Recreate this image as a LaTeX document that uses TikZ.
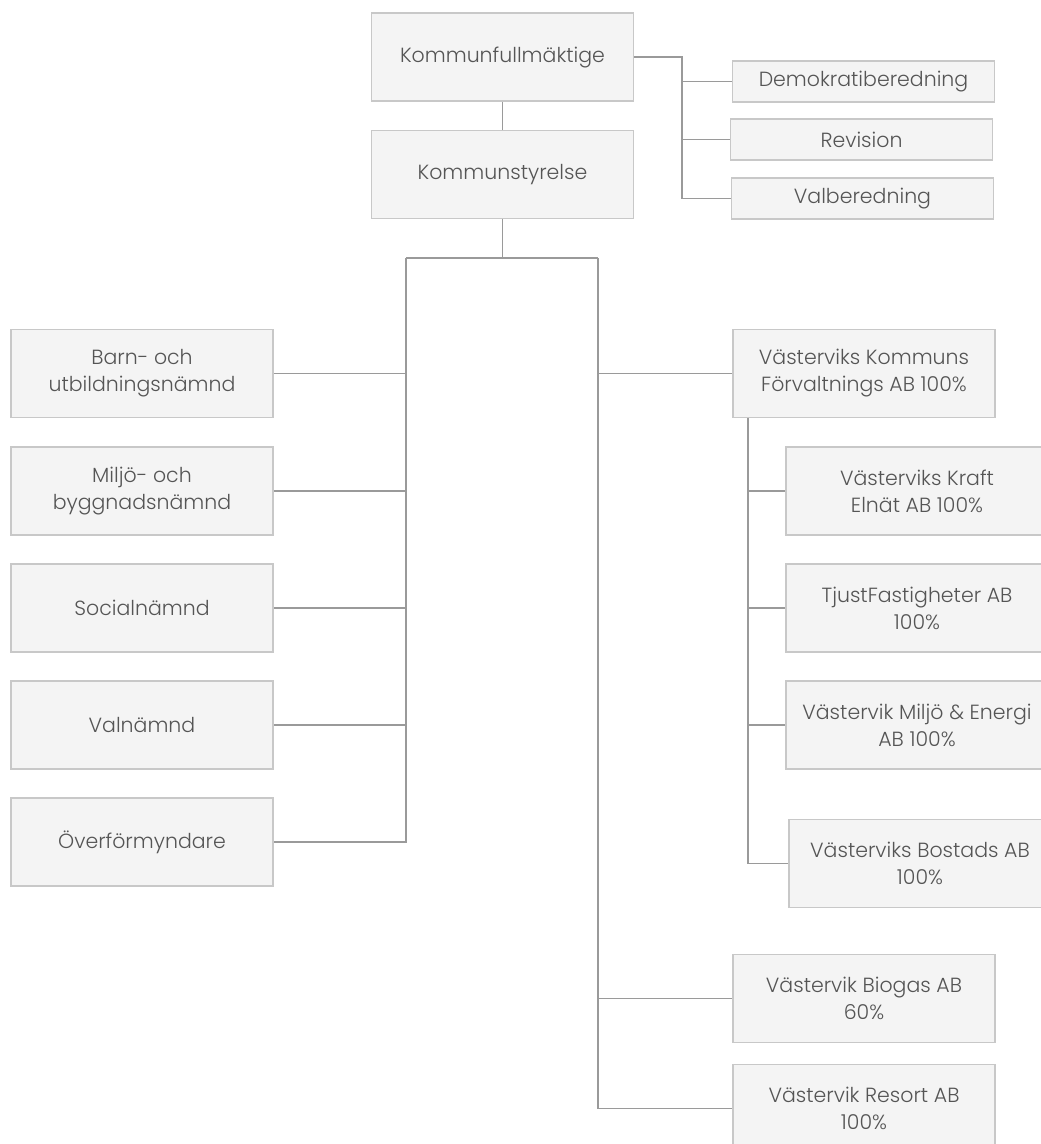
\documentclass[tikz,border=0pt]{standalone}
\usepackage{fontspec}
\IfFontExistsTF{Poppins Light}{\setmainfont{Poppins Light}}{\setmainfont{Poppins}}
\definecolor{boxfill}{HTML}{F4F4F4}
\definecolor{boxline}{HTML}{C8C8C8}
\definecolor{wire}{HTML}{9A9A9A}
\definecolor{ink}{HTML}{555555}
\begin{document}
\begin{tikzpicture}[x=1pt, y=-1pt,
  org/.style={draw=boxline, fill=boxfill, line width=1.2pt, text=ink, align=center,
    inner sep=0pt, minimum width=262pt, minimum height=88pt,
    font=\fontsize{20.5}{27}\selectfont},
  small/.style={org, minimum height=41pt},
  wires/.style={draw=wire, line width=1.2pt}]

  \useasboundingbox (0,0) rectangle (1041,1144);

  \node (kf) at (502.5,57) [org] {Kommunfullmäktige};
  \node (ks) at (502.5,174.5) [org] {Kommunstyrelse};

  \node (demo) at (863.5,81.5) [small] {Demokratiberedning};
  \node (rev) at (861.5,139.5) [small] {Revision};
  \node (valb) at (862.5,198.5) [small] {Valberedning};

  \node (barn) at (142,373.5) [org] {Barn- och\\utbildningsnämnd};
  \node (bygg) at (142,491) [org] {Miljö- och\\byggnadsnämnd};
  \node (soc) at (142,608) [org] {Socialnämnd};
  \node (valn) at (142,725) [org] {Valnämnd};
  \node (over) at (142,842) [org] {Överförmyndare};

  \node (vkf) at (864,373.5) [org] {Västerviks Kommuns\\Förvaltnings AB 100\%};
  \node (kraft) at (917,491) [org] {Västerviks Kraft\\Elnät AB 100\%};
  \node (tjust) at (917,608) [org] {TjustFastigheter AB\\100\%};
  \node (vme) at (917,725) [org] {Västervik Miljö \& Energi\\AB 100\%};
  \node (bost) at (920,863.5) [org] {Västerviks Bostads AB\\100\%};
  \node (bio) at (864,998.5) [org] {Västervik Biogas AB\\60\%};
  \node (res) at (864,1108.5) [org] {Västervik Resort AB\\100\%};

  \coordinate (kfbus) at (682,57);
  \coordinate (ksbus) at (502.5,258);
  \coordinate (lbus) at (406,258);
  \coordinate (rbus) at (598,258);
  \coordinate (vbus) at (748,418);

  \draw [wires] (kf) -- (ks);
  \draw [wires] (kf.east) -- (kfbus) |- (valb.west);
  \draw [wires] (kfbus |- demo.west) -- (demo.west);
  \draw [wires] (kfbus |- rev.west) -- (rev.west);

  \draw [wires] (ks.south) -- (ksbus);
  \draw [wires] (lbus) -- (rbus);
  \draw [wires] (lbus) |- (over.east);
  \draw [wires] (lbus |- barn.east) -- (barn.east);
  \draw [wires] (lbus |- bygg.east) -- (bygg.east);
  \draw [wires] (lbus |- soc.east) -- (soc.east);
  \draw [wires] (lbus |- valn.east) -- (valn.east);

  \draw [wires] (rbus) |- (res.west);
  \draw [wires] (rbus |- vkf.west) -- (vkf.west);
  \draw [wires] (rbus |- bio.west) -- (bio.west);

  \draw [wires] (vbus) |- (bost.west);
  \draw [wires] (vbus |- kraft.west) -- (kraft.west);
  \draw [wires] (vbus |- tjust.west) -- (tjust.west);
  \draw [wires] (vbus |- vme.west) -- (vme.west);

\end{tikzpicture}
\end{document}
